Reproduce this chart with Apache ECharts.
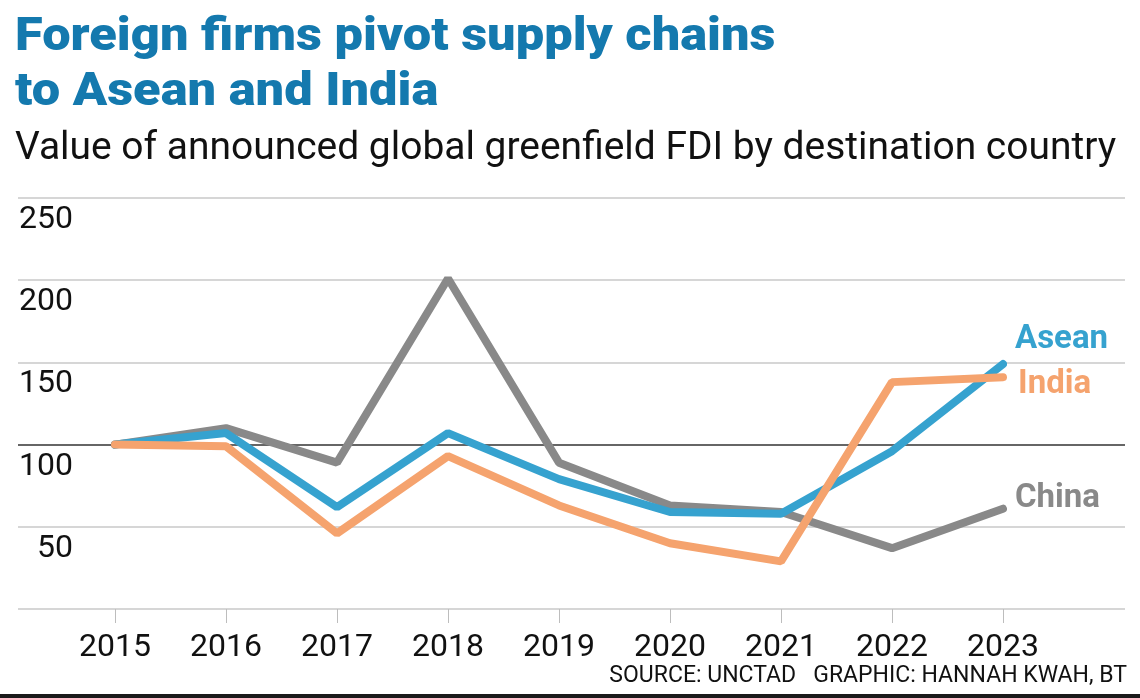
<!DOCTYPE html>
<html>
<head>
<meta charset="utf-8">
<script src="https://cdn.jsdelivr.net/npm/echarts@6/dist/echarts.min.js"></script>
<style>
  html, body { margin: 0; padding: 0; background: #fff; }
  #chart { width: 1140px; height: 698px; }
</style>
</head>
<body>
<div id="chart"></div>
<script>
// ---- data ----
const years = ['2015', '2016', '2017', '2018', '2019', '2020', '2021', '2022', '2023'];
const china = [100, 110, 89, 201, 89, 63, 59, 37, 61];
const asean = [100, 107, 62, 107, 79, 59, 58, 96, 149];
const india = [100, 99, 46, 93, 63, 40, 29, 138, 141];
const yTicks = { min: 0, max: 250, step: 50 };

const titleText = 'Foreign firms pivot supply chains\nto Asean and India';
const subtitleText = 'Value of announced global greenfield FDI by destination country';
const sourceText = 'SOURCE: UNCTAD   GRAPHIC: HANNAH KWAH, BT';

const C = { asean: '#36a2cf', india: '#f5a36e', china: '#898989', title: '#1479ae' };
const FONT = 'Roboto, "Noto Sans", sans-serif';

const chart = echarts.init(document.getElementById('chart'), null, { renderer: 'canvas' });

function lineSeries(name, data, color, offset) {
  return {
    name: name, type: 'line', data: data,
    xAxisIndex: 1, yAxisIndex: 1,
    symbol: 'none', smooth: false, silent: true,
    lineStyle: { color: color, width: 8, cap: 'round' },
    endLabel: {
      show: true, formatter: '{a}', color: color,
      fontFamily: FONT, fontSize: 33, fontWeight: 'bold',
      distance: 12, offset: offset
    },
    animation: false
  };
}

chart.setOption({
  animation: false,
  backgroundColor: '#fff',
  grid: [
    { left: 18, right: 15, top: 198, bottom: 89 },
    { left: 115, right: 137, top: 198, bottom: 89 }
  ],
  xAxis: [
    { type: 'value', gridIndex: 0, show: false, min: 0, max: 1 },
    {
      type: 'category', gridIndex: 1, data: years, boundaryGap: false,
      axisLine: { show: false },
      axisTick: { show: true, length: 14, lineStyle: { color: '#bdbdbd', width: 1 } },
      axisLabel: { fontFamily: FONT, fontSize: 32, color: '#111', margin: 23, lineHeight: 32 }
    }
  ],
  yAxis: [
    {
      type: 'value', gridIndex: 0, min: yTicks.min, max: yTicks.max, interval: yTicks.step,
      axisLine: { show: false }, axisTick: { show: false },
      splitLine: { show: true, lineStyle: { color: ['#c9c9c9', '#c9c9c9', '#333333', '#c9c9c9', '#c9c9c9', '#c9c9c9'], width: 1.5 } },
      axisLabel: {
        inside: true, margin: 55, align: 'right', verticalAlign: 'top', lineHeight: 44,
        fontFamily: FONT, fontSize: 32, color: '#111',
        showMinLabel: false, showMaxLabel: true
      }
    },
    { type: 'value', gridIndex: 1, min: yTicks.min, max: yTicks.max, show: false }
  ],
  series: [
    lineSeries('China', china, C.china, [0, -10]),
    lineSeries('Asean', asean, C.asean, [0, -24]),
    lineSeries('India', india, C.india, [3, 8])
  ],
  graphic: [
    {
      type: 'text', x: 15, y: 11, scaleX: 1.10,
      style: { text: titleText, fill: C.title, font: '900 46px ' + FONT, lineHeight: 55 }
    },
    {
      type: 'text', x: 15, y: 127, scaleX: 1.025,
      style: { text: subtitleText, fill: '#111', font: '38px ' + FONT, lineHeight: 44 }
    },
    {
      type: 'text', right: 13, top: 663,
      style: { text: sourceText, fill: '#111', font: '23px ' + FONT, lineHeight: 26 }
    },
    {
      type: 'rect', left: 0, top: 694, shape: { width: 1140, height: 4 },
      style: { fill: '#1a1a1a' }
    }
  ]
});
</script>
</body>
</html>
